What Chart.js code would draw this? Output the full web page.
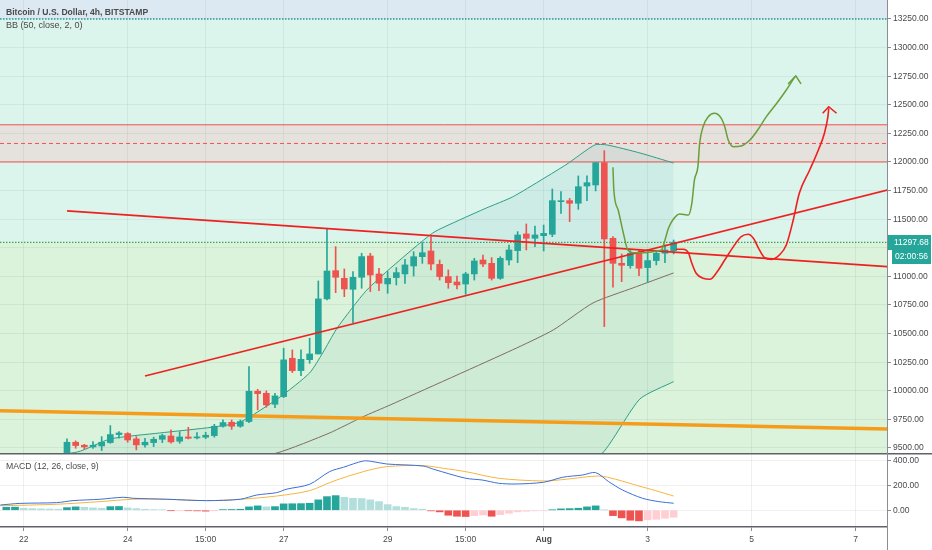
<!DOCTYPE html>
<html>
<head>
<meta charset="utf-8">
<script src="https://cdn.jsdelivr.net/npm/chart.js@4.4.1/dist/chart.umd.min.js"></script>
<style>
html, body { margin: 0; padding: 0; background: #fff; }
#wrap { position: relative; width: 932px; height: 550px; overflow: hidden; font-family: "Liberation Sans", Arial, sans-serif; }
#main { position: absolute; left: 0; top: 0; width: 932px; height: 453px; }
#macd { position: absolute; left: 0; top: 453px; width: 932px; height: 97px; }
.lbl { position: absolute; left: 6px; color: #4a4a4a; font-size: 9px; line-height: 11px; white-space: nowrap; }
.title { top: 7px; font-weight: bold; font-size: 8.6px; }
.bb { top: 20px; }
.macdl { top: 461px; font-size: 8.7px; }
</style>
</head>
<body>
<div id="wrap">
  <div id="main"><canvas id="main-chart"></canvas></div>
  <div id="macd"><canvas id="macd-chart"></canvas></div>
  <div class="lbl title">Bitcoin / U.S. Dollar, 4h, BITSTAMP</div>
  <div class="lbl bb">BB (50, close, 2, 0)</div>
  <div class="lbl macdl">MACD (12, 26, close, 9)</div>
</div>
<script>
// K线数据 (4h), 下标 0 = 第一根可见K线
const opens  = [9430, 9550, 9524, 9509, 9518, 9547, 9617, 9626, 9579, 9527,
                9547, 9576, 9605, 9559, 9596, 9588, 9594, 9608, 9690, 9725,
                9690, 9731, 9996, 9978, 9882, 9949, 10284, 10176, 10272, 10322,
                10803, 11050, 10983, 10887, 10992, 11178, 11021, 10934, 10989, 11021,
                11091, 11172, 11222, 11105, 10998, 10951, 10933, 11021, 11143, 11114,
                10983, 11143, 11225, 11371, 11333, 11356, 11368, 11653, 11662, 11639,
                11790, 11799, 11994, 11333, 11114, 11094, 11208, 11077, 11138, 11202, 11225];
const highs  = [9579, 9562, 9532, 9556, 9599, 9696, 9643, 9634, 9599, 9585,
                9594, 9620, 9658, 9643, 9681, 9634, 9637, 9707, 9745, 9745,
                9745, 10211, 10013, 9999, 9978, 10372, 10357, 10357, 10459, 10960,
                11412, 11260, 11065, 11042, 11202, 11202, 11071, 11042, 11076, 11149,
                11216, 11295, 11347, 11143, 11056, 11003, 11035, 11158, 11187, 11164,
                11172, 11274, 11391, 11458, 11440, 11449, 11764, 11741, 11682, 11878,
                11878, 11997, 12099, 11348, 11196, 11225, 11231, 11225, 11225, 11275, 11318];
const lows   = [9400, 9497, 9489, 9497, 9477, 9541, 9585, 9550, 9483, 9506,
                9512, 9547, 9541, 9541, 9579, 9579, 9582, 9594, 9681, 9663,
                9681, 9722, 9833, 9856, 9853, 9940, 10159, 10133, 10240, 10322,
                10794, 10858, 10823, 10596, 10896, 10867, 10875, 10852, 10925, 10939,
                11003, 11114, 11056, 10968, 10896, 10890, 10843, 10968, 11085, 10968,
                10974, 11100, 11120, 11231, 11260, 11222, 11347, 11551, 11478, 11586,
                11662, 11747, 10561, 10905, 10954, 11071, 11007, 10948, 11100, 11120, 11196];
const closes = [9550, 9521, 9509, 9524, 9550, 9617, 9631, 9570, 9527, 9550,
                9576, 9608, 9553, 9596, 9585, 9596, 9611, 9690, 9722, 9690,
                9731, 9996, 9975, 9876, 9955, 10270, 10176, 10275, 10322, 10803,
                11047, 10992, 10890, 10992, 11173, 11012, 10940, 10983, 11033, 11100,
                11172, 11207, 11108, 10998, 10945, 10925, 11021, 11135, 11108, 10983,
                11158, 11231, 11362, 11333, 11362, 11376, 11662, 11662, 11639, 11784,
                11819, 11994, 11327, 11114, 11097, 11202, 11071, 11138, 11202, 11231, 11298];

// 坐标轴刻度
const xTickPos = [-5, 7, 16, 25, 37, 46, 55, 67, 79, 91];
const xTickLabels = ['22', '24', '15:00', '27', '29', '15:00', 'Aug', '3', '5', '7'];
const priceTicks = [9500, 9750, 10000, 10250, 10500, 10750, 11000, 11250, 11500,
                    11750, 12000, 12250, 12500, 12750, 13000, 13250];
const macdTicks = [0, 200, 400];

// 水平价位
const lastPrice = 11297.68;
const countdown = '02:00:56';
const alertLevel = 13250;
const boxTop = 12325;
const boxMid = 12162;
const boxBottom = 12000;

// 布林带 BB (50, close, 2)
const bbUpperX = [-7.7, 1.2, 5, 10.7, 16.8, 20, 24.6, 28, 29.5, 31.1, 33, 34.6, 37.3,
                  42.2, 45.3, 48.4, 51.4, 54.9, 57.7, 60.9, 62.3, 66.1, 70];
const bbUpper  = [9380, 9465, 9579, 9631, 9682, 9727, 9946, 10156, 10330, 10540, 10733, 10881, 11070,
                  11379, 11493, 11598, 11694, 11851, 11982, 12149, 12149, 12079, 11991];
const bbBasisX = [-7.7, 15, 24.2, 30.3, 34.1, 37.3, 51.4, 56.1, 60.7, 65.3, 70];
const bbBasis  = [8900, 9330, 9456, 9631, 9771, 9876, 10357, 10531, 10768, 10899, 11030];
const bbLowerX = [-7.7, 30, 50, 56, 61.8, 66.1, 70];
const bbLower  = [8300, 8500, 8900, 9150, 9456, 9928, 10080];

// 趋势线
const downTrendX = [0, 94.7];
const downTrend  = [11572, 11085];
const upTrendX   = [9, 94.7];
const upTrend    = [10129, 11755];
const orangeX    = [-7.73, 94.62];
const orangeY    = [9826, 9666];

// 手绘路径
const greenPathX = [63.0, 63.1, 63.6, 64.2, 64.7, 65.3, 66.5, 67.6, 68.6, 69.0, 69.4, 69.9, 70.7, 71.7,
                    72.1, 72.4, 72.8, 73.0, 73.4, 74.0, 74.7, 75.5, 75.9, 76.3, 76.9, 77.8, 78.8,
                    79.7, 80.7, 81.9, 83.0, 84.0];
const greenPath  = [11954, 11755, 11580, 11377, 11231, 11207, 11207, 11216, 11231, 11318, 11420, 11493,
                    11546, 11537, 11639, 11843, 11959, 12163, 12308, 12396, 12426, 12382, 12308, 12192,
                    12134, 12140, 12192, 12280, 12396, 12513, 12629, 12746];
const greenArrowX = [83.2, 84.1, 84.7];
const greenArrow  = [12682, 12752, 12682];
const redPathX = [70.3, 71.1, 71.7, 72.1, 72.6, 73.4, 74.2, 74.9, 75.9, 76.9, 77.8, 78.6, 79.2,
                  79.9, 80.5, 81.3, 82.2, 83.0, 83.8, 84.5, 85.7, 86.7, 87.4, 87.8, 87.9];
const redPath  = [11237, 11237, 11207, 11115, 11027, 10983, 10975, 11027, 11143, 11260, 11347, 11368,
                  11333, 11231, 11163, 11149, 11187, 11274, 11493, 11726, 11930, 12105, 12251, 12396, 12469];
const redArrowX = [87.2, 87.9, 88.8];
const redArrow  = [12426, 12483, 12426];

// MACD (12, 26, close, 9)
const histStart = -7;
const hist = [24, 25, 16, 13, 11, 10, 8,
              21, 27, 24, 19, 16, 29, 30, 19, 13, 8,
              5, 4, -3, -3, -4, -5, -7, -1, 5, 6,
              8, 27, 35, 27, 29, 51, 52, 53, 56, 83,
              109, 117, 104, 96, 94, 83, 69, 45, 29, 24,
              13, 8, -5, -13, -40, -48, -50, -43, -38, -48,
              -35, -24, -13, -8, -5, -4, 3, 11, 13, 16,
              27, 35, 3, -43, -61, -80, -85, -77, -72, -64, -56];
const macdX = [-7.7, -5.4, -1.2, 0.7, 3.8, 6.5, 7.6, 11.5, 16.1, 20, 21.9, 24.2, 25.3, 28, 30.3, 31.9,
               34.2, 35.3, 36.9, 41.1, 42.3, 46, 47.9, 49.8, 51.7, 55, 57.2, 59.5, 61, 62.5, 64.1,
               66.4, 68.3, 70];
const macdLine = [42, 55, 61, 77, 88, 104, 96, 88, 77, 88, 122, 141, 168, 208, 309, 344,
                  394, 389, 370, 354, 328, 256, 242, 216, 210, 224, 264, 282, 301, 229, 162,
                  96, 69, 56];
const signalX = [-7.7, -1.2, 3.8, 7.6, 11.5, 16.1, 20, 24.2, 28, 30.6, 34.2, 36.9, 41.1, 43.4, 46,
                 49.8, 55, 57.6, 61.4, 63.3, 66, 67.9, 70];
const signalLine = [36, 48, 69, 88, 88, 77, 88, 114, 157, 229, 309, 349, 357, 336, 309,
                    256, 234, 248, 274, 248, 194, 157, 114];

// 视图范围
const xMin = -7.73, xMax = 94.62;
const yMin = 9456, yMax = 13416;
const macdMin = -134, macdMax = 458;

const GREEN = '#26a69a', RED = '#ef5350';
const family = '"Liberation Sans", Arial, sans-serif';
Chart.defaults.font.family = family;
Chart.defaults.font.size = 8.5;
Chart.defaults.color = '#4a4a4a';

function pts(xs, ys) {
    return xs.map((x, i) => ({x: x, y: ys[i]}));
}

function lineDs(data, color, width, extra) {
    return Object.assign({
        type: 'line', data: data, borderColor: color, borderWidth: width,
        pointRadius: 0, pointHoverRadius: 0, fill: false, tension: 0, order: 5
    }, extra || {});
}

// 背景区域
const zonePlugin = {
    id: 'zones',
    beforeDraw(chart) {
        const {ctx, chartArea: a, scales: {y}} = chart;
        const yAlert = y.getPixelForValue(alertLevel);
        const yLast = y.getPixelForValue(lastPrice);
        const yT = y.getPixelForValue(boxTop);
        const yB = y.getPixelForValue(boxBottom);
        ctx.save();
        ctx.fillStyle = '#dde9f2';
        ctx.fillRect(a.left, a.top, a.width, yAlert - a.top);
        ctx.fillStyle = '#dbf4ec';
        ctx.fillRect(a.left, yAlert, a.width, yLast - yAlert);
        ctx.fillStyle = '#daf3da';
        ctx.fillRect(a.left, yLast, a.width, a.bottom - yLast);
        ctx.fillStyle = '#e5e1dc';
        ctx.fillRect(a.left, yT, a.width, yB - yT);
        ctx.restore();
    }
};

// 右侧最新价格标签
const priceLabelPlugin = {
    id: 'priceLabel',
    afterDraw(chart) {
        const {ctx, chartArea: a, scales: {y}} = chart;
        const py = Math.round(y.getPixelForValue(lastPrice));
        ctx.save();
        ctx.fillStyle = GREEN;
        ctx.fillRect(a.right + 1, py - 7, chart.width - a.right - 2, 15);
        ctx.fillRect(a.right + 5, py + 8, chart.width - a.right - 6, 14);
        ctx.fillStyle = '#fff';
        ctx.font = '8.5px ' + family;
        ctx.textBaseline = 'middle';
        ctx.fillText(lastPrice.toFixed(2), a.right + 7, py + 0.5);
        ctx.fillText(countdown, a.right + 8, py + 15);
        ctx.restore();
    }
};

// MACD 面板分隔线
const macdFramePlugin = {
    id: 'macdFrame',
    afterDraw(chart) {
        const {ctx, chartArea: a} = chart;
        ctx.save();
        ctx.strokeStyle = '#5f626b';
        ctx.lineWidth = 1.5;
        ctx.beginPath();
        ctx.moveTo(0, 0.75);
        ctx.lineTo(chart.width, 0.75);
        ctx.stroke();
        ctx.strokeStyle = '#8a8d93';
        ctx.lineWidth = 1;
        ctx.beginPath();
        ctx.moveTo(a.right + 0.5, 0);
        ctx.lineTo(a.right + 0.5, chart.height);
        ctx.stroke();
        ctx.restore();
    }
};

function createMainChart() {
    const idx = closes.map((_, i) => i);
    const colors = idx.map(i => closes[i] >= opens[i] ? GREEN : RED);
    const datasets = [
        {type: 'bar', data: idx.map(i => ({x: i, y: [opens[i], closes[i]]})), backgroundColor: colors,
         barThickness: 6, minBarLength: 1, grouped: false, order: 1},
        {type: 'bar', data: idx.map(i => ({x: i, y: [lows[i], highs[i]]})), backgroundColor: colors,
         barThickness: 1, grouped: false, order: 2},
        lineDs(pts(bbUpperX, bbUpper), '#2f9f86', 1,
               {tension: 0.2, fill: {target: 4, above: 'rgba(40,140,150,0.07)', below: 'rgba(40,140,150,0.07)'}, order: 4}),
        lineDs(pts(bbBasisX, bbBasis), '#8a6a5a', 1, {tension: 0.2, order: 4}),
        lineDs(pts(bbLowerX, bbLower), '#2f9f86', 1, {tension: 0.2, order: 4}),
        lineDs(pts([xMin, xMax], [boxTop, boxTop]), '#f05252', 1, {order: 6}),
        lineDs(pts([xMin, xMax], [boxBottom, boxBottom]), '#f05252', 1, {order: 6}),
        lineDs(pts([xMin, xMax], [boxMid, boxMid]), '#f05252', 1, {borderDash: [4, 3], order: 6}),
        lineDs(pts([xMin, xMax], [alertLevel, alertLevel]), '#2a9d8f', 1.3, {borderDash: [1.5, 1.5], order: 6}),
        lineDs(pts([xMin, xMax], [lastPrice, lastPrice]), '#3aa55a', 1.3, {borderDash: [1.5, 1.5], order: 6}),
        lineDs(pts(orangeX, orangeY), '#f59d1a', 3.5, {order: 3}),
        lineDs(pts(downTrendX, downTrend), '#ee2020', 1.7, {order: -1}),
        lineDs(pts(upTrendX, upTrend), '#ee2020', 1.7, {order: -1}),
        lineDs(pts(greenPathX, greenPath), '#6a9e3a', 1.5, {cubicInterpolationMode: 'monotone', order: -2}),
        lineDs(pts(greenArrowX, greenArrow), '#6a9e3a', 1.5, {order: -2}),
        lineDs(pts(redPathX, redPath), '#f01e1e', 1.6, {cubicInterpolationMode: 'monotone', order: -2}),
        lineDs(pts(redArrowX, redArrow), '#f01e1e', 1.6, {order: -2})
    ];
    new Chart(document.getElementById('main-chart'), {
        type: 'bar',
        data: {datasets: datasets},
        options: {
            responsive: true,
            maintainAspectRatio: false,
            animation: false,
            events: [],
            layout: {padding: 0},
            plugins: {legend: {display: false}, tooltip: {enabled: false}},
            scales: {
                x: {
                    type: 'linear', min: xMin, max: xMax, offset: false,
                    afterBuildTicks: a => { a.ticks = xTickPos.map(v => ({value: v})); },
                    afterFit: a => { a.height = 0; a.paddingLeft = 0; a.paddingRight = 0; },
                    ticks: {display: false},
                    grid: {color: 'rgba(40,70,70,0.07)', drawTicks: false, offset: false},
                    border: {display: false}
                },
                y: {
                    type: 'linear', position: 'right', min: yMin, max: yMax,
                    afterBuildTicks: a => { a.ticks = priceTicks.map(v => ({value: v})); },
                    afterFit: a => { a.width = 45; a.paddingTop = 0; a.paddingBottom = 0; },
                    ticks: {padding: 2, callback: v => v.toFixed(2)},
                    grid: {color: 'rgba(40,70,70,0.07)', tickLength: 4, tickColor: '#8a8d93'},
                    border: {color: '#8a8d93'}
                }
            }
        },
        plugins: [zonePlugin, priceLabelPlugin]
    });
}

function createMacdChart() {
    const colors = hist.map((v, i) => {
        const prev = i > 0 ? hist[i - 1] : v;
        if (v >= 0) return v >= prev ? '#26a69a' : '#b2dfdb';
        return v < prev ? '#ef5350' : '#ffcdd2';
    });
    new Chart(document.getElementById('macd-chart'), {
        type: 'bar',
        data: {
            datasets: [
                {type: 'bar', data: hist.map((v, i) => ({x: histStart + i, y: v})), backgroundColor: colors,
                 barThickness: 7, grouped: false, order: 3},
                lineDs(pts(signalX, signalLine), '#f5b53f', 1, {tension: 0.3, order: 2}),
                lineDs(pts(macdX, macdLine), '#3b6fd8', 1, {tension: 0.3, order: 1})
            ]
        },
        options: {
            responsive: true,
            maintainAspectRatio: false,
            animation: false,
            events: [],
            layout: {padding: 0},
            plugins: {legend: {display: false}, tooltip: {enabled: false}},
            scales: {
                x: {
                    type: 'linear', min: xMin, max: xMax, offset: false,
                    afterBuildTicks: a => { a.ticks = xTickPos.map(v => ({value: v})); },
                    afterFit: a => { a.height = 23; a.paddingLeft = 0; a.paddingRight = 0; },
                    ticks: {
                        padding: 4, maxRotation: 0, autoSkip: false,
                        callback: (v, i) => xTickLabels[i],
                        font: c => ({size: 8.5, family: family, weight: xTickLabels[c.index] === 'Aug' ? 'bold' : 'normal'})
                    },
                    grid: {color: 'rgba(0,0,0,0.06)', tickLength: 4, tickColor: '#8a8d93', offset: false},
                    border: {color: '#5f626b', width: 1.5}
                },
                y: {
                    type: 'linear', position: 'right', min: macdMin, max: macdMax,
                    afterBuildTicks: a => { a.ticks = macdTicks.map(v => ({value: v})); },
                    afterFit: a => { a.width = 45; a.paddingTop = 0; a.paddingBottom = 0; },
                    ticks: {padding: 2, callback: v => v.toFixed(2)},
                    grid: {color: 'rgba(0,0,0,0.06)', tickLength: 4, tickColor: '#8a8d93'},
                    border: {color: '#8a8d93'}
                }
            }
        },
        plugins: [macdFramePlugin]
    });
}

document.addEventListener('DOMContentLoaded', function() {
    createMainChart();
    createMacdChart();
});
</script>
</body>
</html>
